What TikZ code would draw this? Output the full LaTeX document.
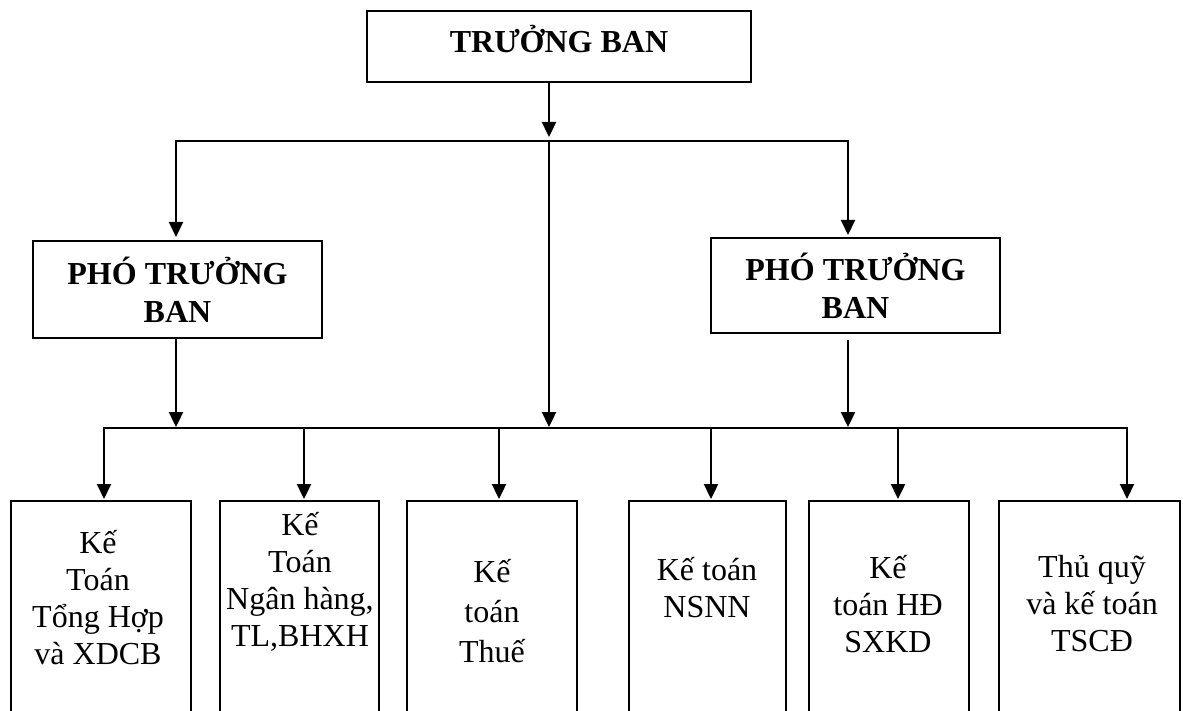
\documentclass[tikz,border=0pt]{standalone}
\usepackage{fontspec}
\setmainfont{Liberation Serif}
\usetikzlibrary{positioning}
\usetikzlibrary{arrows.meta}

\begin{document}
\begin{tikzpicture}[x=1pt,y=-1pt,>={Triangle[length=15pt,width=14pt]},shorten >=1pt,
	line width=2pt,
	head node/.style={rectangle,draw,font=\bfseries\fontsize{32}{38}\selectfont,align=center,inner sep=0pt},
	leaf node/.style={rectangle,draw,anchor=north,minimum height=230pt,inner sep=0pt},
	leaf text/.style={font=\fontsize{32}{37}\selectfont,align=center,inner sep=0pt},
	link/.style={line width=2.4pt}]

	\useasboundingbox (0,0) rectangle (1183,711);

	\node[head node,minimum width=384pt,minimum height=71pt,text height=27pt,text depth=14pt] (tb) at (559,46.5) {TRƯỞNG BAN};
	\node[head node,minimum width=289pt,minimum height=97pt] (pl) at (177.5,289.5) {PHÓ TRƯỞNG\\BAN};
	\node[head node,minimum width=289pt,minimum height=95pt] (pr) at (855.5,285.5) {PHÓ TRƯỞNG\\BAN};

	\node[leaf node,minimum width=180pt] (k1) at (101,500) {};
	\node[leaf node,minimum width=159pt] (k2) at (299.5,500) {};
	\node[leaf node,minimum width=170pt] (k3) at (492,500) {};
	\node[leaf node,minimum width=157pt] (k4) at (707.5,500) {};
	\node[leaf node,minimum width=160pt] (k5) at (889,500) {};
	\node[leaf node,minimum width=181pt] (k6) at (1089.5,500) {};

	\node[leaf text] (t1) at (98,598) {Kế\\Toán\\Tổng Hợp\\và XDCB};
	\node[leaf text] (t2) at (300,582) {Kế\\Toán\\Ngân hàng,\\TL,BHXH};
	\node[leaf text,font=\fontsize{32}{40}\selectfont] (t3) at (492,611) {Kế\\toán\\Thuế};
	\node[leaf text] (t4) at (707,588) {Kế toán\\NSNN};
	\node[leaf text] (t5) at (888,604) {Kế\\toán HĐ\\SXKD};
	\node[leaf text] (t6) at (1092,604) {Thủ quỹ\\và kế toán\\TSCĐ};

	% junctions
	\coordinate (top) at (549,141);
	\coordinate (c1) at (176,141);
	\coordinate (c2) at (848,141);
	\coordinate (a1) at (104,428);
	\coordinate (a2) at (304,428);
	\coordinate (a3) at (499,428);
	\coordinate (a4) at (711,428);
	\coordinate (a5) at (898,428);
	\coordinate (a6) at (1127,428);

	\draw[link,->,shorten >=4pt] (top |- tb.south) -- (top);
	\draw[line width=2pt,<->,shorten <=3pt,shorten >=2pt] (c1 |- pl.north) -- (c1) -- (c2) -- (c2 |- pr.north);
	\draw[link,->] (top) -- (top |- a1);
	\draw[link,->] (c1 |- pl.south) -- (c1 |- a1);
	\draw[link,->,shorten <=6pt] (c2 |- pr.south) -- (c2 |- a1);

	\draw[line width=2pt,<->,shorten <=1pt] (a1 |- k1.north) -- (a1) -- (a6) -- (a6 |- k6.north);
	\foreach \i in {2,...,5}
		\draw[link,->] (a\i) -- (a\i |- k\i.north);
\end{tikzpicture}
\end{document}
